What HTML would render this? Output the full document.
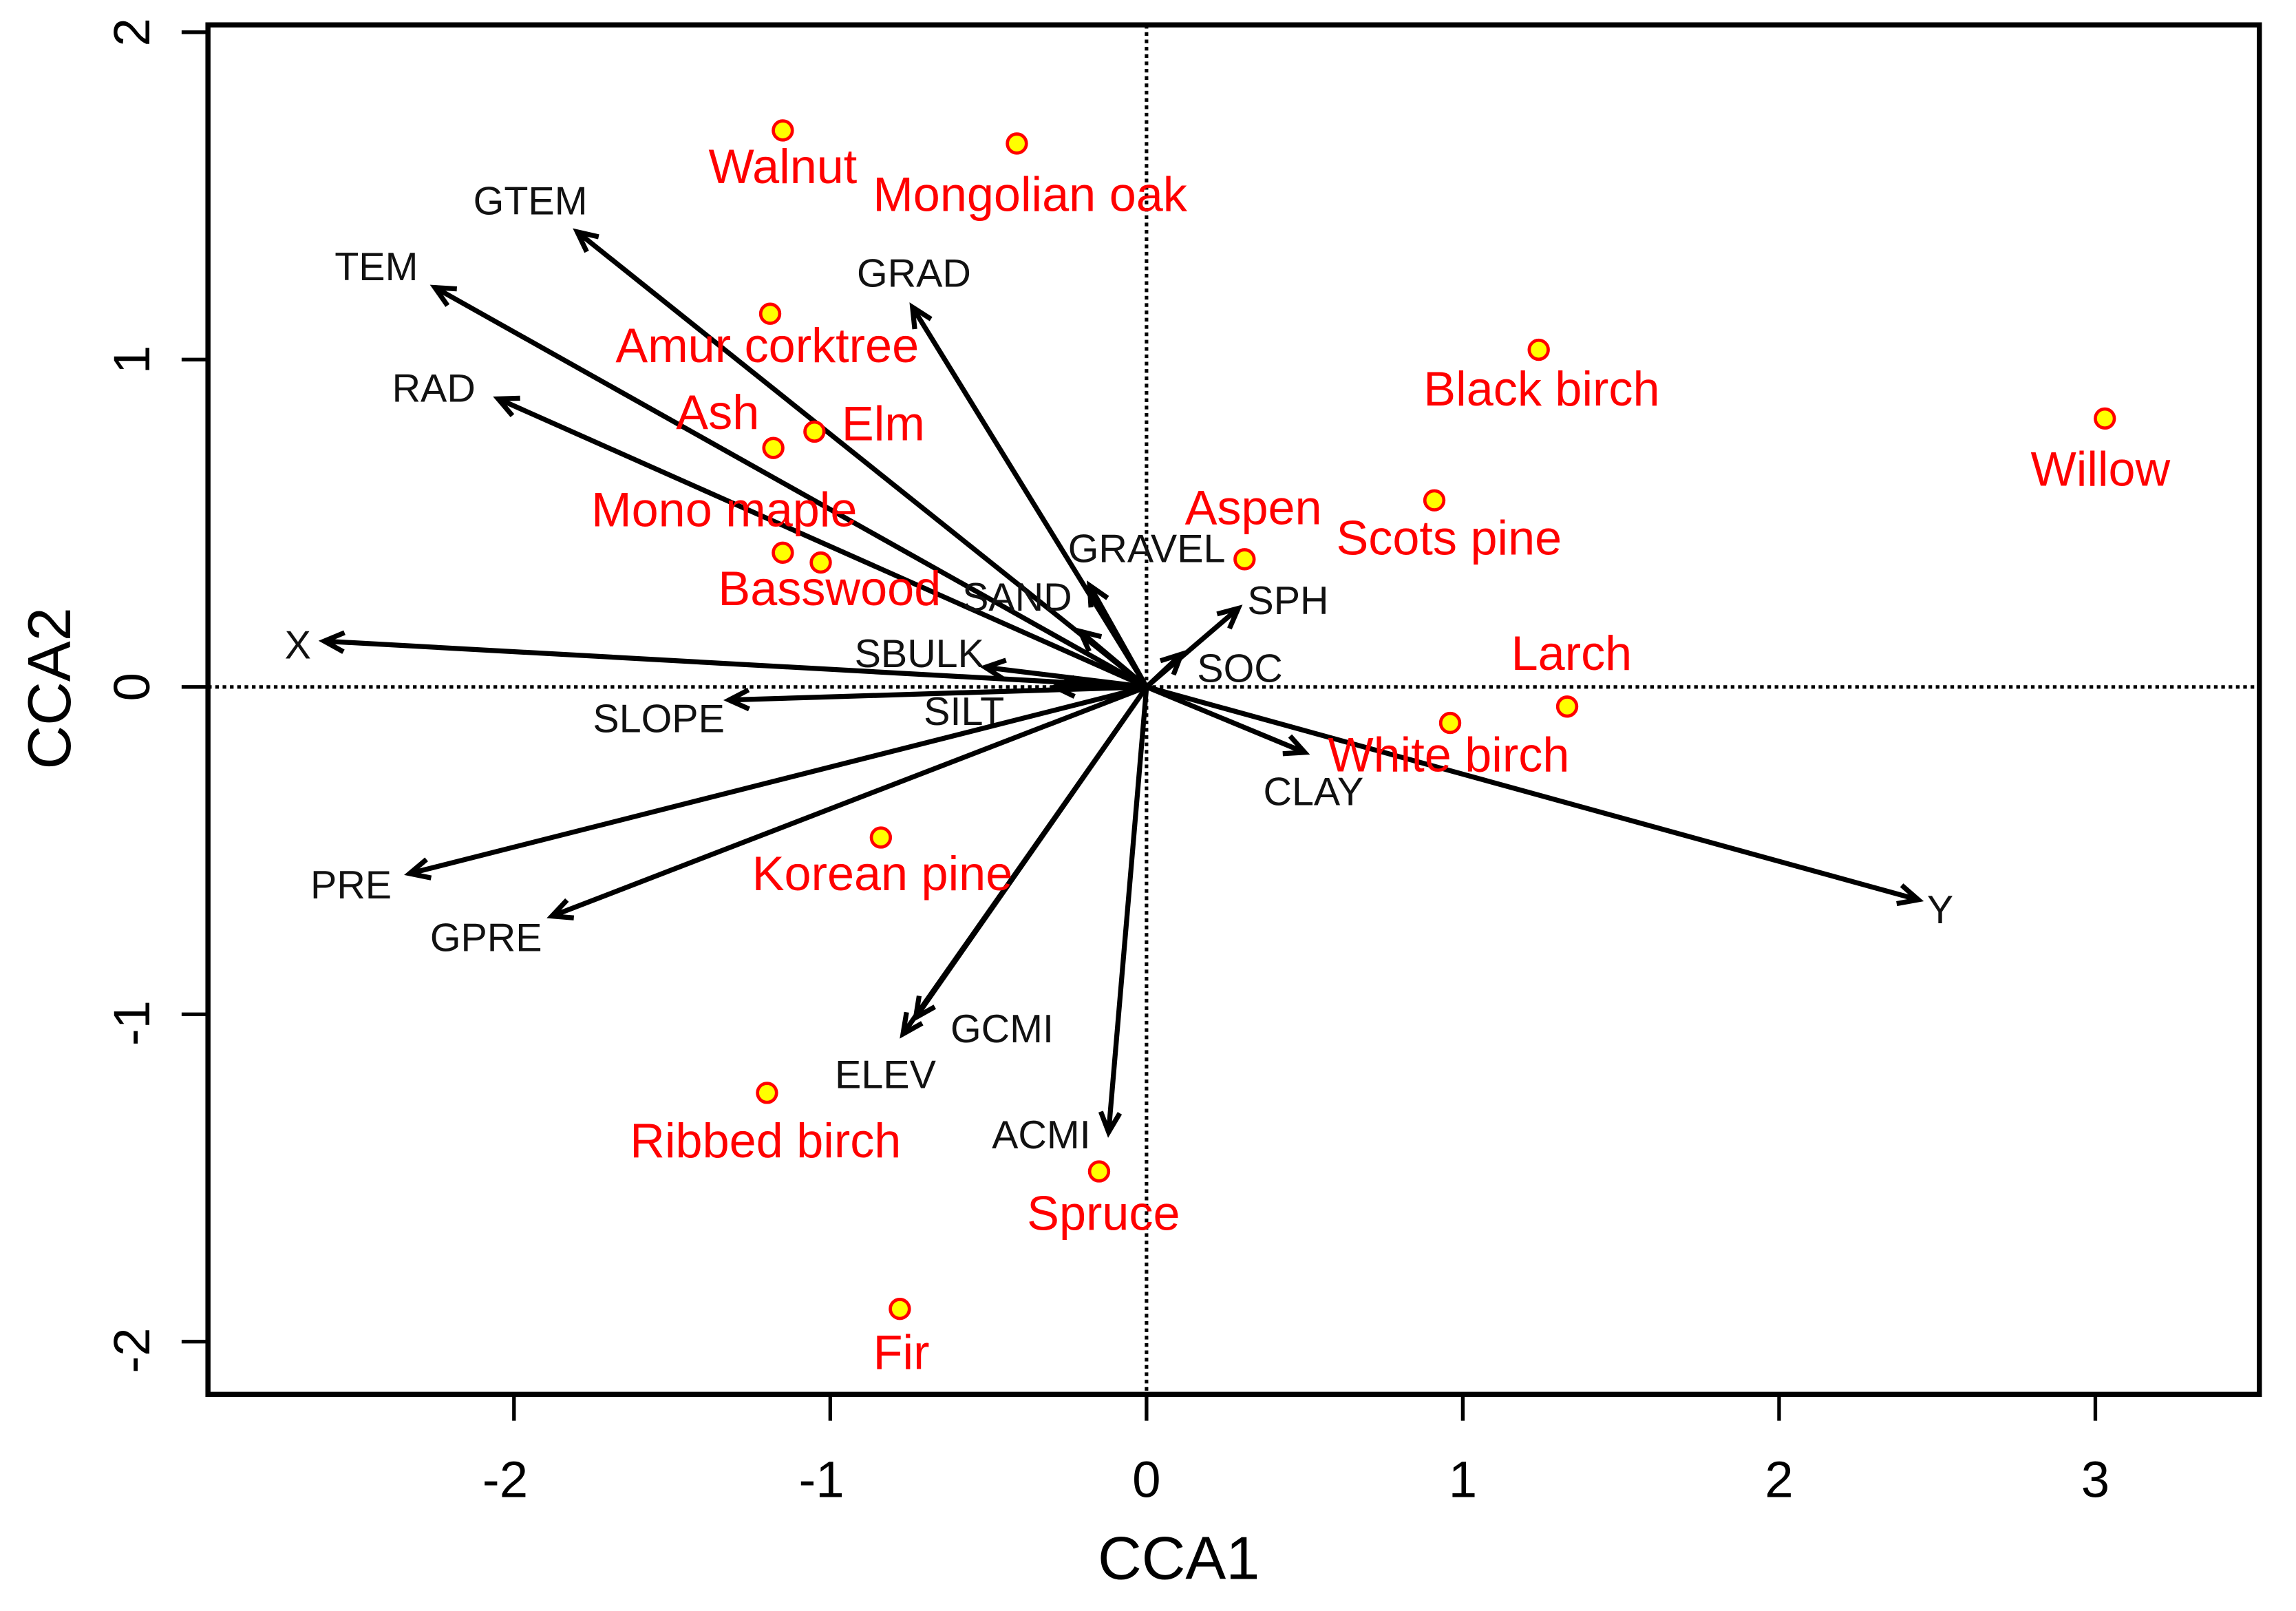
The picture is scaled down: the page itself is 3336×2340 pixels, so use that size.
<!DOCTYPE html>
<html><head><meta charset="utf-8"><style>html,body{margin:0;padding:0;background:#fff}svg{display:block}</style></head>
<body>
<svg id="chart" width="3336" height="2340" viewBox="0 0 1568 1099.9" xmlns="http://www.w3.org/2000/svg" font-family="'Liberation Sans', Arial, sans-serif">
<rect x="0" y="0" width="1568" height="1099.9" fill="#fff"/>
<g id="grid"></g>
<g id="arrows"></g>
<g id="points"></g>
<rect x="142" y="17" width="1401" height="935" fill="none" stroke="#000" stroke-width="3.5"/>
<g id="axes"></g>
<text x="805" y="1078" font-size="41.5" text-anchor="middle">CCA1</text>
<text x="0" y="0" font-size="41.5" text-anchor="middle" transform="translate(48,470) rotate(-90)">CCA2</text>
</svg>
<script>
const xTicks = [-2, -1, 0, 1, 2, 3];
const yTicks = [-2, -1, 0, 1, 2];
const speciesNames = ["Walnut","Mongolian oak","Amur corktree","Ash","Elm","Mono maple","Basswood","Black birch","Willow","Scots pine","Aspen","Larch","White birch","Korean pine","Ribbed birch","Spruce","Fir"];
const speciesX = [-1.15,-0.41,-1.19,-1.18,-1.05,-1.15,-1.03,1.24,3.03,0.91,0.31,1.33,0.96,-0.84,-1.20,-0.15,-0.78];
const speciesY = [1.70,1.66,1.14,0.73,0.78,0.41,0.38,1.03,0.82,0.57,0.39,-0.06,-0.11,-0.46,-1.24,-1.48,-1.90];
const speciesLabelDX = [0,9,-2,-38,47,-40,6,2,-3,10,6,3,-1,1,-1,3,1];
const speciesLabelDY = [25,35,22,-24,-5,-29,18,27,35,26,-35,-36,22,25,33,29,30];
const envNames = ["GTEM","TEM","RAD","GRAD","GRAVEL","SAND","SPH","SBULK","SOC","SILT","X","SLOPE","CLAY","Y","PRE","GPRE","GCMI","ELEV","ACMI"];
const envX = [-1.80,-2.25,-2.05,-0.74,-0.18,-0.21,0.29,-0.51,0.11,-0.29,-2.60,-1.32,0.50,2.44,-2.33,-1.88,-0.73,-0.77,-0.12];
const envY = [1.39,1.22,0.88,1.16,0.31,0.17,0.24,0.06,0.10,0.00,0.14,-0.04,-0.20,-0.65,-0.57,-0.70,-1.01,-1.06,-1.36];
const envLabelDX = [-32,-40,-44,1,39,-43,34,-45,40,-62,-18,-48,6,15,-40,-45,59,-12,-46];
const envLabelDY = [-21,-14,-7,-23,-25,-23,-5,-9,10,17,3,13,27,7,8,15,8,28,2];

const NS = "http://www.w3.org/2000/svg";
function sx(v){ return 783 + 216*v; }
function sy(v){ return 469 - 223.5*v; }
function mk(tag, attrs, parent){
  const e = document.createElementNS(NS, tag);
  for (const k in attrs) e.setAttribute(k, attrs[k]);
  parent.appendChild(e); return e;
}
const grid = document.getElementById('grid');
const axes = document.getElementById('axes');
const arrowsG = document.getElementById('arrows');
const pointsG = document.getElementById('points');

let l1 = mk('line',{x1:sx(0),x2:sx(0),y1:17,y2:952,stroke:'#000','stroke-width':2.4,'stroke-dasharray':'2.5,2.5'},grid);


let l2 = mk('line',{x1:142,x2:1543,y1:sy(0),y2:sy(0),stroke:'#000','stroke-width':2.4,'stroke-dasharray':'2.5,2.5'},grid);



xTicks.forEach(t=>{
  const tk = mk('line',{x1:sx(t),x2:sx(t),y1:952,y2:970,stroke:'#000','stroke-width':2.5},axes);
  
  
  const tx = mk('text',{x:sx(t)-(t<0?6:0),y:1022,'font-size':35,'text-anchor':'middle'},axes);
  tx.textContent = String(t);
  
  
});
yTicks.forEach(t=>{
  const tk = mk('line',{x1:124,x2:142,y1:sy(t),y2:sy(t),stroke:'#000','stroke-width':2.5},axes);
  
  
  const tx = mk('text',{x:0,y:0,'font-size':35,'text-anchor':'middle',transform:'translate(102,'+(sy(t)+(t<0?6:0))+') rotate(-90)'},axes);
  tx.textContent = String(t);
  
  
});

envNames.forEach((n,i)=>{
  const x0=sx(0), y0=sy(0), x1=sx(envX[i]), y1=sy(envY[i]);
  const g = mk('g',{},arrowsG);
  
  
  mk('line',{x1:x0,y1:y0,x2:x1,y2:y1,stroke:'#000','stroke-width':3.4},g);
  const a = Math.atan2(y1-y0,x1-x0), L=15, w=0.45;
  const p1=[x1-L*Math.cos(a-w), y1-L*Math.sin(a-w)], p2=[x1-L*Math.cos(a+w), y1-L*Math.sin(a+w)];
  mk('polyline',{points:p1.join(',')+' '+x1+','+y1+' '+p2.join(','),fill:'none',stroke:'#000','stroke-width':3.4},g);
  const t = mk('text',{x:x1+envLabelDX[i],y:y1+envLabelDY[i]+9,'font-size':27,'text-anchor':'middle',fill:'#111'},g);
  t.textContent = n;
  
  
});

speciesNames.forEach((n,i)=>{
  const cx=sx(speciesX[i]), cy=sy(speciesY[i]);
  const c = mk('circle',{cx:cx,cy:cy,r:6.5,fill:'#ffff00',stroke:'#ff0000','stroke-width':2.2},pointsG);
  
  
  const t = mk('text',{x:cx+speciesLabelDX[i],y:cy+speciesLabelDY[i]+11,'font-size':33,'text-anchor':'middle',fill:'#ff0000'},pointsG);
  t.textContent = n;
  
  
});
</script>
</body></html>
